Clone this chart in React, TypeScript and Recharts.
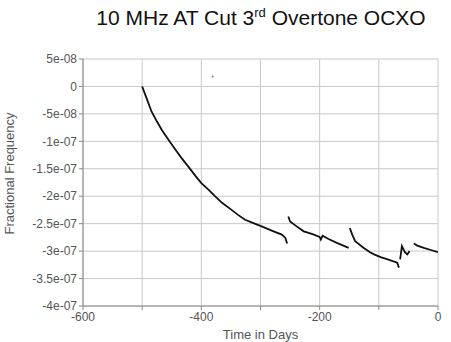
import React from "react";
import {
  ComposedChart,
  Line,
  Scatter,
  XAxis,
  YAxis,
  CartesianGrid,
} from "recharts";

const font = "'Liberation Sans', Arial, Helvetica, sans-serif";

// [time in days, fractional frequency], one array per continuous run
const run1: [number, number][] = [
  [-500, 0], [-492, -2.3e-8], [-484, -4.6e-8], [-475, -6.4e-8], [-467, -7.9e-8],
  [-455, -9.8e-8], [-444, -1.15e-7], [-433, -1.31e-7], [-422, -1.46e-7],
  [-410, -1.63e-7], [-400, -1.76e-7], [-388, -1.88e-7], [-377, -2.0e-7],
  [-365, -2.12e-7], [-350, -2.24e-7], [-338, -2.34e-7], [-326, -2.43e-7],
  [-312, -2.49e-7], [-298, -2.55e-7], [-280, -2.63e-7], [-264, -2.7e-7],
  [-258, -2.76e-7], [-255, -2.86e-7],
];
const run2: [number, number][] = [
  [-253, -2.37e-7], [-250, -2.46e-7], [-240, -2.54e-7], [-227, -2.64e-7],
  [-212, -2.69e-7], [-200, -2.74e-7], [-198, -2.79e-7], [-195, -2.72e-7],
  [-185, -2.78e-7], [-171, -2.85e-7], [-160, -2.9e-7], [-151, -2.94e-7],
];
const run3: [number, number][] = [
  [-149, -2.58e-7], [-145, -2.7e-7], [-140, -2.82e-7], [-126, -2.94e-7],
  [-115, -3.02e-7], [-108, -3.06e-7], [-97, -3.11e-7], [-85, -3.15e-7],
  [-69, -3.21e-7], [-66, -3.3e-7],
];
const run4: [number, number][] = [
  [-64, -3.15e-7], [-61, -2.91e-7], [-56, -3.02e-7], [-52, -3.06e-7], [-48, -3.0e-7],
];
const run5: [number, number][] = [
  [-41, -2.86e-7], [-35, -2.9e-7], [-24, -2.94e-7], [-12, -2.98e-7], [0, -3.02e-7],
];
const strayPoints: [number, number][] = [[-381, 1.8e-8]];

const xTicks = [-600, -500, -400, -300, -200, -100, 0];
const yTicks = [5e-8, 0, -5e-8, -1e-7, -1.5e-7, -2e-7, -2.5e-7, -3e-7, -3.5e-7, -4e-7];

const runs = [run1, run2, run3, run4, run5];
const toRows = (run: [number, number][]) => run.map(([t, f]) => ({ t, f }));

const fmtY = (v: number) => {
  if (v === 0) return "0";
  const [m, e] = v.toExponential().split("e");
  const n = parseInt(e, 10);
  return `${m}e${n < 0 ? "-" : "+"}${String(Math.abs(n)).padStart(2, "0")}`;
};

const tickStyle = { fill: "#555", fontSize: 12, fontFamily: font };

const YTitle = (props: any) => {
  const { viewBox } = props;
  const x = viewBox.x + 14;
  const y = viewBox.y + viewBox.height / 2 - 9;
  return (
    <text
      x={x}
      y={y}
      transform={`rotate(-90, ${x}, ${y})`}
      textAnchor="middle"
      fill="#555"
      fontSize={13}
      fontFamily={font}
    >
      Fractional Frequency
    </text>
  );
};

export default function App() {
  return (
    <div style={{ position: "absolute", left: 0, top: 0, width: 451, height: 342, background: "#fff" }}>
      <div
        style={{
          position: "absolute",
          left: 261,
          top: 5,
          transform: "translateX(-50%)",
          whiteSpace: "nowrap",
          fontFamily: font,
          fontSize: 21,
          lineHeight: "25px",
          color: "#111",
        }}
      >
        10 MHz AT Cut 3<sup style={{ fontSize: 13, lineHeight: 0 }}>rd</sup> Overtone OCXO
      </div>
      <ComposedChart
        width={451}
        height={342}
        margin={{ top: 59, right: 13, bottom: 0, left: 0 }}
      >
        <CartesianGrid stroke="#c8c8c8" />
        <XAxis
          type="number"
          dataKey="t"
          domain={[-600, 0]}
          ticks={xTicks}
          tickFormatter={(v: number) => (v % 200 === 0 ? String(v) : "")}
          height={36}
          tick={tickStyle}
          tickSize={4}
          stroke="#888"
          allowDataOverflow
          label={{
            value: "Time in Days",
            position: "insideBottom",
            offset: 3,
            fill: "#555",
            fontSize: 13,
            fontFamily: font,
          }}
        />
        <YAxis
          type="number"
          dataKey="f"
          domain={[-4e-7, 5e-8]}
          ticks={yTicks}
          tickFormatter={fmtY}
          width={83}
          tick={tickStyle}
          tickSize={4}
          stroke="#888"
          allowDataOverflow
          label={<YTitle />}
        />
        {runs.map((run, i) => (
          <Line
            key={i}
            data={toRows(run)}
            dataKey="f"
            type="linear"
            stroke="#111"
            strokeWidth={1.8}
            dot={false}
            isAnimationActive={false}
          />
        ))}
        <Scatter
          data={toRows(strayPoints)}
          dataKey="f"
          isAnimationActive={false}
          shape={(p: any) => <circle cx={p.cx} cy={p.cy} r={1} fill="#777" />}
        />
      </ComposedChart>
    </div>
  );
}
